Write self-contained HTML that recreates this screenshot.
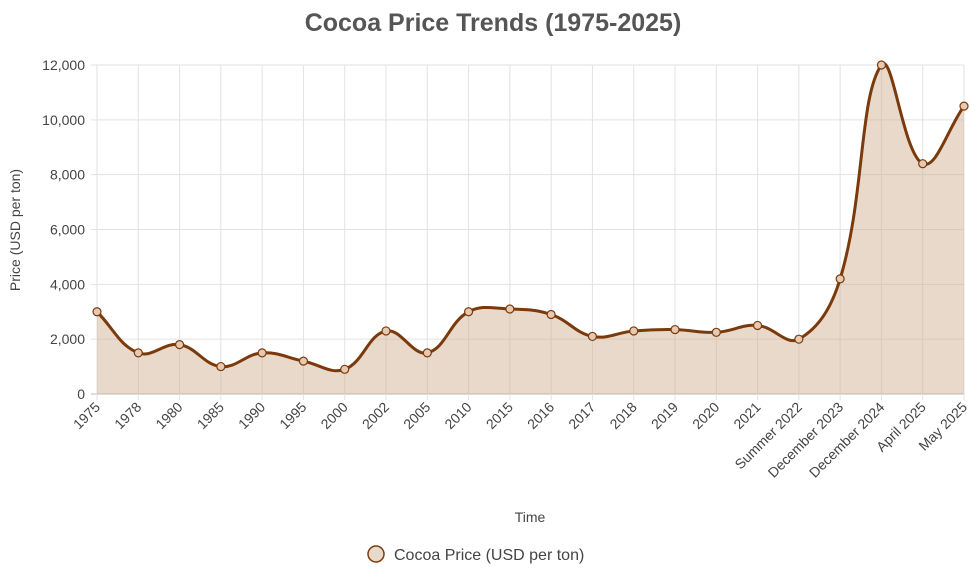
<!DOCTYPE html>
<html><head><meta charset="utf-8"><style>
body{margin:0;background:#fff;width:980px;height:578px;overflow:hidden;font-family:"Liberation Sans",Arial,sans-serif}
</style></head><body>
<svg id="c" width="980" height="578" xmlns="http://www.w3.org/2000/svg">
<text x="493" y="31" text-anchor="middle" font-size="25" font-weight="bold" fill="#555">Cocoa Price Trends (1975-2025)</text>
<g id="grid"></g>
<g id="series"></g>
<g id="axes"></g>
<text x="530" y="522" text-anchor="middle" font-size="14" fill="#444">Time</text>
<text transform="translate(20,230) rotate(-90)" text-anchor="middle" font-size="14" fill="#444">Price (USD per ton)</text>
<g>
<circle cx="376" cy="554" r="8" fill="rgba(205,170,140,0.45)" stroke="#7a3a0c" stroke-width="1.5"/>
<text x="394" y="560" font-size="16" fill="#444">Cocoa Price (USD per ton)</text>
</g>
</svg>
<script>
const categories=["1975","1978","1980","1985","1990","1995","2000","2002","2005","2010","2015","2016","2017","2018","2019","2020","2021","Summer 2022","December 2023","December 2024","April 2025","May 2025"];
const prices=[3000,1500,1800,1000,1500,1200,900,2300,1500,3000,3100,2900,2100,2300,2350,2250,2500,2000,4200,12000,8400,10500];
const yTicks=[0,2000,4000,6000,8000,10000,12000];
const X0=97,X1=964,Y0=394,Y1=65,YMAX=12000;
const ns="http://www.w3.org/2000/svg";
function xs(i){return X0+i*(X1-X0)/(categories.length-1);}
function ys(v){return Y0-(v/YMAX)*(Y0-Y1);}
function mk(t,a,p){const e=document.createElementNS(ns,t);for(const k in a)e.setAttribute(k,a[k]);p.appendChild(e);return e;}
const grid=document.getElementById('grid'),axes=document.getElementById('axes'),ser=document.getElementById('series');
yTicks.forEach(v=>{
 const l=mk('line',{x1:X0-6,x2:X1,y1:ys(v),y2:ys(v),stroke:v===0?'#bbb':'#e2e2e2','stroke-width':1},grid);
 
 const t=mk('text',{x:X0-12,y:ys(v)+5,'text-anchor':'end','font-size':14,fill:'#444'},axes);
 t.textContent=v.toLocaleString('en-US');
 
});
categories.forEach((c,i)=>{
 const l=mk('line',{x1:xs(i),x2:xs(i),y1:Y1,y2:Y0+6,stroke:'#e2e2e2','stroke-width':1},grid);
 
 const t=mk('text',{transform:`translate(${xs(i)+4},${Y0+14}) rotate(-45)`,'text-anchor':'end','font-size':14,fill:'#444'},axes);
 t.textContent=c;
 
});
const pts=prices.map((v,i)=>[xs(i),ys(v)]);
const T=0.4,cps=[];
for(let i=0;i<pts.length;i++){
 const p=pts[Math.max(0,i-1)],c=pts[i],n=pts[Math.min(pts.length-1,i+1)];
 const d01=Math.hypot(c[0]-p[0],c[1]-p[1]),d12=Math.hypot(n[0]-c[0],n[1]-c[1]);
 let s01=d01/(d01+d12||1),s12=d12/(d01+d12||1);
 const fa=T*s01,fb=T*s12;
 cps.push([[c[0]-fa*(n[0]-p[0]),c[1]-fa*(n[1]-p[1])],[c[0]+fb*(n[0]-p[0]),c[1]+fb*(n[1]-p[1])]]);
}
let d=`M${pts[0][0]},${pts[0][1]}`;
for(let i=1;i<pts.length;i++){d+=` C${cps[i-1][1][0]},${cps[i-1][1][1]} ${cps[i][0][0]},${cps[i][0][1]} ${pts[i][0]},${pts[i][1]}`;}
const area=mk('path',{d:d+` L${X1},${Y0} L${X0},${Y0} Z`,fill:'rgba(205,170,140,0.45)',stroke:'none'},ser);

const line=mk('path',{d:d,fill:'none',stroke:'#7a3a0c','stroke-width':3},ser);

pts.forEach(p=>{
 const c=mk('circle',{cx:p[0],cy:p[1],r:4,fill:'#e6c9b0',stroke:'#7a3a0c','stroke-width':1.2},ser);
 
});
</script>
</body></html>
